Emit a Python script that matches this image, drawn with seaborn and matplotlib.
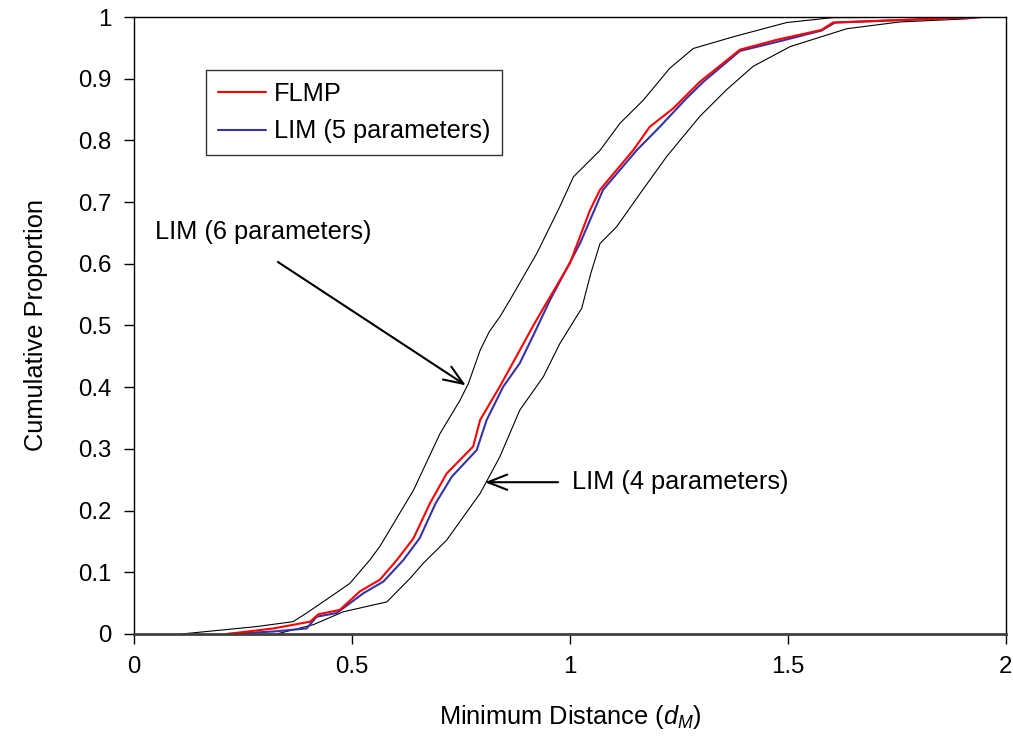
import pandas as pd
import matplotlib
matplotlib.use("Agg")
import matplotlib.pyplot as plt
import seaborn as sns

# cumulative distributions (x = minimum distance, y = proportion)
flmp_x = [0.213, 0.32, 0.404, 0.423, 0.472, 0.518, 0.564, 0.603, 0.641, 0.679, 0.717,
          0.778, 0.794, 0.839, 0.885, 0.916, 0.939, 1.0, 1.046, 1.069, 1.145, 1.183, 1.237,
          1.298, 1.39, 1.474, 1.577, 1.603, 1.947]
flmp_y = [0.0, 0.009, 0.02, 0.032, 0.039, 0.069, 0.088, 0.12, 0.155, 0.212, 0.26,
          0.304, 0.347, 0.401, 0.46, 0.50, 0.528, 0.601, 0.687, 0.72, 0.784, 0.822, 0.852,
          0.895, 0.947, 0.963, 0.979, 0.991, 1.0]

lim5_x = [0.213, 0.32, 0.396, 0.419, 0.465, 0.526, 0.572, 0.618, 0.655, 0.692, 0.729,
          0.786, 0.809, 0.847, 0.885, 0.92, 0.954, 1.023, 1.076, 1.153, 1.206, 1.267,
          1.306, 1.39, 1.477, 1.577, 1.608, 1.947]
lim5_y = [0.0, 0.004, 0.009, 0.028, 0.034, 0.066, 0.085, 0.12, 0.155, 0.212, 0.255,
          0.298, 0.347, 0.401, 0.439, 0.49, 0.541, 0.633, 0.72, 0.784, 0.822, 0.868,
          0.895, 0.945, 0.96, 0.978, 0.991, 1.0]

lim6_x = [0.109, 0.281, 0.365, 0.396, 0.45, 0.495, 0.541, 0.564, 0.641, 0.702, 0.748,
          0.767, 0.794, 0.815, 0.840, 0.862, 0.924, 0.977, 1.008, 1.069, 1.115, 1.168, 1.229,
          1.283, 1.375, 1.497, 1.603, 1.947]
lim6_y = [0.0, 0.012, 0.02, 0.034, 0.06, 0.082, 0.12, 0.142, 0.233, 0.325, 0.379,
          0.406, 0.46, 0.49, 0.515, 0.541, 0.617, 0.693, 0.741, 0.784, 0.828, 0.865, 0.917,
          0.949, 0.968, 0.991, 0.999, 1.0]

lim4_x = [0.327, 0.411, 0.48, 0.58, 0.633, 0.664, 0.717, 0.794, 0.839, 0.885, 0.939,
          0.977, 1.027, 1.048, 1.069, 1.107, 1.161, 1.222, 1.298, 1.359, 1.42, 1.505, 1.635,
          1.757, 1.91, 1.947]
lim4_y = [0.0, 0.015, 0.036, 0.052, 0.09, 0.115, 0.152, 0.228, 0.287, 0.363, 0.417,
          0.471, 0.528, 0.585, 0.633, 0.66, 0.714, 0.774, 0.839, 0.882, 0.92, 0.952, 0.981,
          0.992, 0.997, 1.0]

x_ticks = [0, 0.5, 1, 1.5, 2]
x_tick_labels = ["0", "0.5", "1", "1.5", "2"]
y_ticks = [i / 10 for i in range(11)]
y_tick_labels = ["0", "0.1", "0.2", "0.3", "0.4", "0.5", "0.6", "0.7", "0.8", "0.9", "1"]

sns.set_style("ticks")
plt.rcParams["font.family"] = ["Liberation Sans", "DejaVu Sans"]
plt.rcParams["mathtext.fontset"] = "custom"
plt.rcParams["mathtext.it"] = "Liberation Sans:italic"
plt.rcParams["mathtext.rm"] = "Liberation Sans"
plt.rcParams["text.color"] = "black"
plt.rcParams["axes.labelcolor"] = "black"

fs = 18.3

fig = plt.figure(figsize=(10.13, 7.36), dpi=100)
ax = fig.add_axes([0.1323, 0.1386, 0.8607, 0.8383])

sns.lineplot(x=lim6_x, y=lim6_y, sort=False, estimator=None, color="black", linewidth=0.8, ax=ax)
sns.lineplot(x=lim4_x, y=lim4_y, sort=False, estimator=None, color="black", linewidth=0.8, ax=ax)
sns.lineplot(x=lim5_x, y=lim5_y, sort=False, estimator=None, color="#3333aa", linewidth=1.5,
             label="LIM (5 parameters)", ax=ax)
sns.lineplot(x=flmp_x, y=flmp_y, sort=False, estimator=None, color="#ff0000", linewidth=1.5,
             label="FLMP", ax=ax)

ax.set_xlim(0, 2)
ax.set_ylim(0, 1)
ax.set_xticks(x_ticks)
ax.set_xticklabels(x_tick_labels)
ax.set_yticks(y_ticks)
ax.set_yticklabels(y_tick_labels)
ax.tick_params(direction="out", length=7, width=1, labelsize=fs - 1, colors="black", pad=9)
for s in ["left", "top", "right"]:
    ax.spines[s].set_linewidth(1)
    ax.spines[s].set_color("black")
ax.spines["bottom"].set_linewidth(2)
ax.spines["bottom"].set_color("#404040")

ax.set_xlabel(r"Minimum Distance ($d_M$)", fontsize=fs, labelpad=18)
ax.set_ylabel("Cumulative Proportion", fontsize=fs, labelpad=22)

h, l = ax.get_legend_handles_labels()
leg = ax.legend([h[1], h[0]], [l[1], l[0]], loc="upper left", bbox_to_anchor=(0.083, 0.914),
                fontsize=fs, frameon=True, fancybox=False, edgecolor="black",
                handlelength=1.9, borderpad=0.45, labelspacing=0.55, handletextpad=0.3,
                borderaxespad=0)
leg.get_frame().set_linewidth(1)

arrow = dict(arrowstyle="->,head_length=1.4,head_width=0.55", color="black", lw=1.5,
             shrinkA=0, shrinkB=0)
ax.annotate("", xy=(0.761, 0.403), xytext=(0.330, 0.603), arrowprops=arrow)
ax.text(0.048, 0.652, "LIM (6 parameters)", fontsize=fs, va="center", ha="left")
ax.annotate("", xy=(0.805, 0.246), xytext=(0.973, 0.246), arrowprops=arrow)
ax.text(1.005, 0.246, "LIM (4 parameters)", fontsize=fs, va="center", ha="left")

fig.savefig("out.png", dpi=100)
